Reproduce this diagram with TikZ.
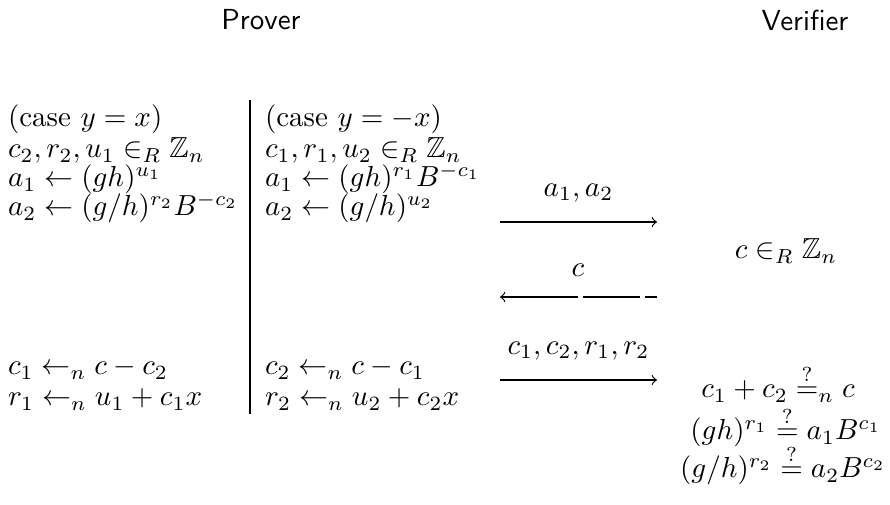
\documentclass[tikz,border=0pt]{standalone}
\usepackage{amssymb}
\usetikzlibrary{positioning}
\begin{document}
\begin{tikzpicture}[x=0.345pt, y=-0.345pt,
  every node/.style={inner sep=0pt, outer sep=0pt},
  row/.style={anchor=base west},
  party/.style={font=\sffamily},
  check/.style={anchor=base}]
\useasboundingbox (0,0) rectangle (890,505);
% headings
\node[party] (prover) at (261,20) {Prover};
\node[party] (verifier) at (805,20) {Verifier};
% case y = x
\node[row] (l1) at (8,127) {$(\mbox{case } y = x)$};
\node[row] (l2) at (8,158) {$c_2, r_2, u_1 \in_R \mathbb{Z}_n$};
\node[row] (l3) at (8,187) {$a_1 \leftarrow (gh)^{u_1}$};
\node[row] (l4) at (8,216) {$a_2 \leftarrow (g/h)^{r_2} B^{-c_2}$};
\node[row] (l5) at (8,375) {$c_1 \leftarrow_n c - c_2$};
\node[row] (l6) at (8,406) {$r_1 \leftarrow_n u_1 + c_1 x$};
% case y = -x
\node[row] (r1) at (265,127) {$(\mbox{case } y = -x)$};
\node[row] (r2) at (265,158) {$c_1, r_1, u_2 \in_R \mathbb{Z}_n$};
\node[row] (r3) at (265,187) {$a_1 \leftarrow (gh)^{r_1} B^{-c_1}$};
\node[row] (r4) at (265,216) {$a_2 \leftarrow (g/h)^{u_2}$};
\node[row] (r5) at (265,375) {$c_2 \leftarrow_n c - c_1$};
\node[row] (r6) at (265,406) {$r_2 \leftarrow_n u_2 + c_2 x$};
% separator
\coordinate (bartop) at (250,100);
\coordinate (barbot) at (250,414);
\draw[thin] (bartop) -- (barbot);
% messages
\coordinate (m1s) at (500,222);
\coordinate (m1e) at (657,222);
\draw[->] (m1s) -- node[above=7pt] (m1) {$a_1, a_2$} (m1e);
\coordinate (m2a) at (500,297);
\coordinate (m2b) at (578,297);
\coordinate (m2c) at (583,297);
\coordinate (m2d) at (640,297);
\coordinate (m2e) at (645,297);
\coordinate (m2f) at (657,297);
\draw[<-] (m2a) -- (m2b);
\draw (m2c) -- (m2d);
\draw (m2e) -- (m2f);
\node[above=7pt] (m2) at (m2b) {$c$};
\coordinate (m3s) at (500,380);
\coordinate (m3e) at (657,380);
\draw[->] (m3s) -- node[above=7pt] (m3) {$c_1, c_2, r_1, r_2$} (m3e);
% verifier
\node[check] (v1) at (786,259) {$c \in_R \mathbb{Z}_n$};
\node[check] (v2) at (778,398) {$c_1 + c_2 \stackrel{?}{=}_n c$};
\node[check] (v3) at (786,440) {$(gh)^{r_1} \stackrel{?}{=} a_1 B^{c_1}$};
\node[check] (v4) at (783,478) {$(g/h)^{r_2} \stackrel{?}{=} a_2 B^{c_2}$};
\end{tikzpicture}
\end{document}
